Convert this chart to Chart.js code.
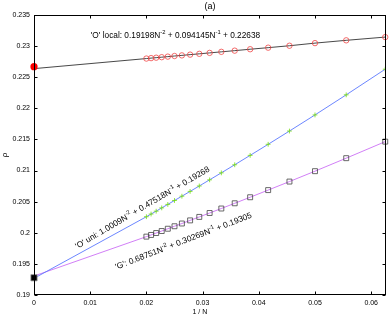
<!DOCTYPE html>
<html>
<head>
<meta charset="utf-8">
<script src="https://cdn.jsdelivr.net/npm/chart.js@4/dist/chart.umd.min.js"></script>
<style>
  html, body { margin: 0; padding: 0; background: #fff; }
  #wrap { width: 391px; height: 316px; position: relative; }
</style>
</head>
<body>
<div id="wrap"><canvas id="chart"></canvas></div>
<script>
// 1/N for N = 50, 48, ... , 16
const invN = [0.02, 0.020833, 0.021739, 0.022727, 0.02381, 0.025, 0.026316, 0.027778, 0.029412,
              0.03125, 0.033333, 0.035714, 0.038462, 0.041667, 0.045455, 0.05, 0.055556, 0.0625];

// 'O' local (red circles)
const rhoLocal = [0.22800, 0.22807, 0.22814, 0.22822, 0.22831, 0.22841, 0.22851, 0.22863, 0.22876,
                  0.22891, 0.22908, 0.22927, 0.22950, 0.22975, 0.23006, 0.23048, 0.23093, 0.23145];
// 'O' uni (green pluses)
const rhoUni = [0.20258, 0.20301, 0.20347, 0.20400, 0.20456, 0.20519, 0.20588, 0.20665, 0.20752,
                0.20851, 0.20963, 0.21093, 0.21244, 0.21422, 0.21635, 0.21894, 0.22217, 0.22629];
// 'G' (squares)
const rhoG = [0.19938, 0.19965, 0.19996, 0.20028, 0.20065, 0.20105, 0.20149, 0.20199, 0.20255,
              0.20318, 0.20390, 0.20474, 0.20571, 0.20686, 0.20823, 0.20990, 0.21199, 0.21465];

// extrapolated values at 1/N = 0
const fitIntercepts = [0.22638, 0.19268, 0.19305];
const limitLocal = 0.2267;   // filled red dot
const limitG = 0.19277;      // filled black square

const xTicks = [0, 0.01, 0.02, 0.03, 0.04, 0.05, 0.06];
const yTicks = [0.19, 0.195, 0.2, 0.205, 0.21, 0.215, 0.22, 0.225, 0.23, 0.235];

const labelLocal = [["'O' local: 0.19198N", 0], ["-2", 1], [" + 0.094145N", 0], ["-1", 1], [" + 0.22638", 0]];
const labelUni = [["'O' uni: 1.0009N", 0], ["-2", 1], [" + 0.47518N", 0], ["-1", 1], [" + 0.19268", 0]];
const labelG = [["'G': 0.68751N", 0], ["-2", 1], [" + 0.30269N", 0], ["-1", 1], [" + 0.19305", 0]];

const FONT = "'Liberation Sans', Arial, sans-serif";

function pts(xs, ys) {
    return xs.map((v, i) => ({ x: v, y: ys[i] }));
}

function fitLine(intercept, ys) {
    return [{ x: 0, y: intercept }].concat(pts(invN, ys));
}

// text with superscripts, rotated around its baseline start
function drawRich(ctx, parts, x, y, angleDeg, size) {
    ctx.save();
    ctx.translate(x, y);
    ctx.rotate(-angleDeg * Math.PI / 180);
    ctx.fillStyle = '#000';
    ctx.textBaseline = 'alphabetic';
    ctx.textAlign = 'left';
    let cx = 0;
    parts.forEach(([txt, sup]) => {
        const s = sup ? size * 0.7 : size;
        ctx.font = s + 'px ' + FONT;
        ctx.fillText(txt, cx, sup ? -size * 0.45 : 0);
        cx += ctx.measureText(txt).width;
    });
    ctx.restore();
}

const frame = {
    id: 'frame',
    afterDraw(chart) {
        const { ctx, chartArea: a, scales: { x, y } } = chart;
        ctx.save();
        ctx.strokeStyle = '#000';
        ctx.lineWidth = 1;
        const L = Math.round(a.left) + 0.5, R = Math.round(a.right) - 0.5;
        const T = Math.round(a.top) + 0.5, B = Math.round(a.bottom) - 0.5;
        ctx.strokeRect(L, T, R - L, B - T);
        ctx.beginPath();
        xTicks.forEach(v => {
            const px = Math.round(x.getPixelForValue(v)) + 0.5;
            ctx.moveTo(px, B); ctx.lineTo(px, B - 3);
            ctx.moveTo(px, T); ctx.lineTo(px, T + 3);
        });
        yTicks.forEach(v => {
            const py = Math.round(y.getPixelForValue(v)) + 0.5;
            ctx.moveTo(L, py); ctx.lineTo(L + 3, py);
            ctx.moveTo(R, py); ctx.lineTo(R - 3, py);
        });
        ctx.stroke();

        // fit annotations
        drawRich(ctx, labelLocal, x.getPixelForValue(0.0101), y.getPixelForValue(0.2313), 0, 8.3);
        drawRich(ctx, labelUni, x.getPixelForValue(0.0077), y.getPixelForValue(0.1974), 30.5, 8.3);
        drawRich(ctx, labelG, x.getPixelForValue(0.0147), y.getPixelForValue(0.1941), 21, 8.3);

        // title and axis labels
        ctx.fillStyle = '#000';
        ctx.textAlign = 'center';
        ctx.textBaseline = 'middle';
        ctx.font = '9px ' + FONT;
        ctx.fillText('(a)', (a.left + a.right) / 2, 7);
        ctx.font = '7px ' + FONT;
        ctx.fillText('1 / N', (a.left + a.right) / 2 - 10, 312);
        ctx.save();
        ctx.translate(5, (a.top + a.bottom) / 2);
        ctx.rotate(-Math.PI / 2);
        ctx.font = '8px ' + FONT;
        ctx.fillText('\u03c1', 0, 0);
        ctx.restore();
        ctx.restore();
    }
};

new Chart(document.getElementById('chart'), {
    type: 'scatter',
    data: {
        datasets: [
            { data: fitLine(fitIntercepts[0], rhoLocal), showLine: true, borderColor: '#333', borderWidth: 0.9, pointRadius: 0, order: 2 },
            { data: fitLine(fitIntercepts[1], rhoUni), showLine: true, borderColor: '#5b78ff', borderWidth: 0.9, pointRadius: 0, order: 2 },
            { data: fitLine(fitIntercepts[2], rhoG), showLine: true, borderColor: '#cc70f5', borderWidth: 0.9, pointRadius: 0, order: 2 },
            { data: pts(invN, rhoLocal), pointStyle: 'circle', pointRadius: 2.7, borderColor: '#f04545', backgroundColor: 'rgba(0,0,0,0)', borderWidth: 0.8, order: 1, clip: false },
            { data: pts(invN, rhoUni), pointStyle: 'cross', pointRadius: 2.4, borderColor: '#74dd10', borderWidth: 0.8, order: 1 },
            { data: pts(invN, rhoG), pointStyle: 'rect', pointRadius: 3.5, borderColor: '#444', backgroundColor: 'rgba(0,0,0,0)', borderWidth: 0.8, order: 1, clip: false },
            { data: [{ x: 0, y: limitLocal }], pointStyle: 'circle', pointRadius: 3.6, borderColor: '#ff0000', backgroundColor: '#ff0000', borderWidth: 0, order: 0, clip: false },
            { data: [{ x: 0, y: limitG }], pointStyle: 'rect', pointRadius: 4.4, borderColor: '#999', backgroundColor: '#000', borderWidth: 0.8, order: 0, clip: false }
        ]
    },
    options: {
        animation: false,
        responsive: true,
        maintainAspectRatio: false,
        layout: { padding: { left: 0, top: 15, right: 3, bottom: 0 } },
        plugins: { legend: { display: false }, tooltip: { enabled: false } },
        scales: {
            x: {
                type: 'linear', min: 0, max: 0.0626,
                grid: { display: false, drawTicks: false }, border: { display: false },
                afterBuildTicks: s => { s.ticks = xTicks.map(v => ({ value: v })); },
                afterFit: s => { s.height = 21; },
                ticks: {
                    padding: 4, color: '#000', font: { family: FONT, size: 7 },
                    callback: v => String(parseFloat(v.toFixed(3)))
                }
            },
            y: {
                type: 'linear', min: 0.19, max: 0.235,
                grid: { display: false, drawTicks: false }, border: { display: false },
                afterBuildTicks: s => { s.ticks = yTicks.map(v => ({ value: v })); },
                afterFit: s => { s.width = 34; },
                ticks: {
                    padding: 4, color: '#000', font: { family: FONT, size: 7 },
                    callback: v => String(parseFloat(v.toFixed(4)))
                }
            }
        }
    },
    plugins: [frame]
});
</script>
</body>
</html>
